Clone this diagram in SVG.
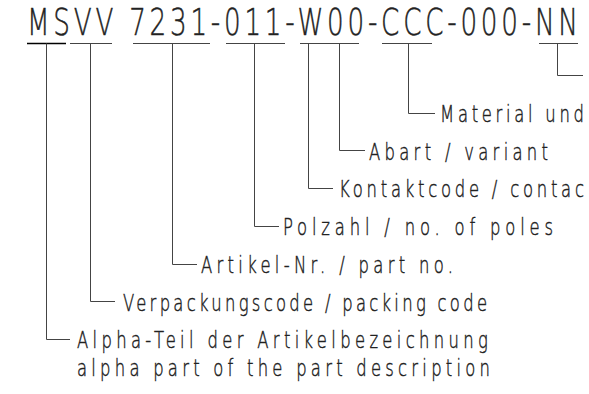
<svg xmlns="http://www.w3.org/2000/svg" width="589" height="394" viewBox="0 0 589 394">
<style>
.t{font-family:"DejaVu Sans ExtraLight","DejaVu Sans Light","DejaVu Sans",sans-serif;font-weight:200;fill:#222;stroke:#222;stroke-width:0.45;}
.lbl{font-size:23.5px;}
.ttl{font-size:37.5px;}
.ln{stroke:#444;stroke-width:1;fill:none;}
</style>
<rect width="589" height="394" fill="#fff"/>
<g id="title" transform="translate(27 35) scale(0.7 1)">
<text class="t ttl" x="0" y="0" textLength="787" lengthAdjust="spacing">MSVV 7231-011-W00-CCC-000-NN</text>
</g>
<g id="connectors">
<line x1="27" y1="43.5" x2="66" y2="43.5" stroke="#000" stroke-width="1.5"/>
<line class="ln" x1="70" y1="43.5" x2="112" y2="43.5"/>
<line class="ln" x1="133" y1="43.5" x2="210" y2="43.5"/>
<line class="ln" x1="226" y1="43.5" x2="285" y2="43.5"/>
<line class="ln" x1="300" y1="43.5" x2="359" y2="43.5"/>
<line class="ln" x1="382" y1="43.5" x2="432" y2="43.5"/>
<line class="ln" x1="539" y1="43.5" x2="578" y2="43.5"/>
<path class="ln" d="M46.5 43.5V339.5H70"/>
<path class="ln" d="M90.5 43.5V301.5H115"/>
<path class="ln" d="M172.5 43.5V264.5H197"/>
<path class="ln" d="M254.5 43.5V226.5H279"/>
<path class="ln" d="M308.5 43.5V188.5H333"/>
<path class="ln" d="M339.5 43.5V150.5H365"/>
<path class="ln" d="M408.5 43.5V113.5H435"/>
<path class="ln" d="M557.5 43.5V75.5H583" stroke="#000"/>
</g>
<g id="label-material" transform="translate(440 122) scale(0.7 1)"><text class="t lbl" textLength="205.7" lengthAdjust="spacing">Material und</text></g>
<g id="label-abart" transform="translate(369 159.5) scale(0.7 1)"><text class="t lbl" textLength="255.7" lengthAdjust="spacing">Abart / variant</text></g>
<g id="label-kontakt" transform="translate(339 197) scale(0.7 1)"><text class="t lbl" textLength="350" lengthAdjust="spacing">Kontaktcode / contac</text></g>
<g id="label-polzahl" transform="translate(283 235) scale(0.7 1)"><text class="t lbl" textLength="385.7" lengthAdjust="spacing">Polzahl / no. of poles</text></g>
<g id="label-artikel" transform="translate(201 273) scale(0.7 1)"><text class="t lbl" textLength="360" lengthAdjust="spacing">Artikel-Nr. / part no.</text></g>
<g id="label-verpackung" transform="translate(123 310.5) scale(0.7 1)"><text class="t lbl" textLength="520" lengthAdjust="spacing">Verpackungscode / packing code</text></g>
<g id="label-alpha" transform="translate(77 348) scale(0.7 1)"><text class="t lbl" textLength="587" lengthAdjust="spacing">Alpha-Teil der Artikelbezeichnung</text>
<text class="t lbl" y="28" textLength="590" lengthAdjust="spacing">alpha part of the part description</text></g>
</svg>
